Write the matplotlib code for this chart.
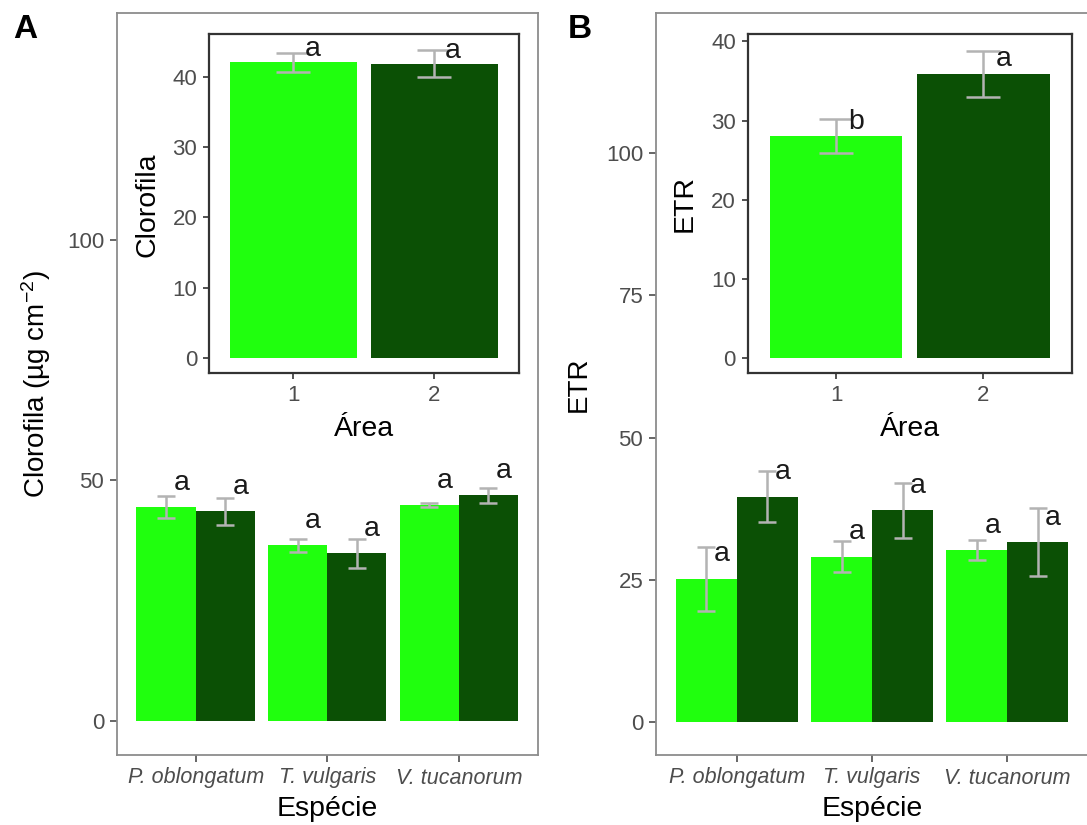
import matplotlib
matplotlib.use("Agg")
import matplotlib.pyplot as plt
import numpy as np

plt.rcParams['font.family'] = ['Liberation Sans', 'DejaVu Sans']
plt.rcParams['mathtext.fontset'] = 'custom'
plt.rcParams['mathtext.rm'] = 'Liberation Sans'
plt.rcParams['mathtext.it'] = 'Liberation Sans:italic'

# ---------------- data ----------------
species = ["P. oblongatum", "T. vulgaris", "V. tucanorum"]
areas = ["1", "2"]

chl_area1 = [44.5, 36.5, 44.9]
chl_area1_sd = [2.2, 1.45, 0.4]
chl_area2 = [43.6, 34.9, 46.9]
chl_area2_sd = [2.8, 3.0, 1.5]
chl_letters1 = ["a", "a", "a"]
chl_letters2 = ["a", "a", "a"]

chl_overall = [42.0, 41.8]
chl_overall_sd = [1.3, 1.9]
chl_overall_letters = ["a", "a"]

etr_area1 = [25.2, 29.1, 30.2]
etr_area1_sd = [5.6, 2.8, 1.75]
etr_area2 = [39.6, 37.2, 31.6]
etr_area2_sd = [4.45, 4.9, 6.0]
etr_letters1 = ["a", "a", "a"]
etr_letters2 = ["a", "a", "a"]

etr_overall = [28.0, 35.9]
etr_overall_sd = [2.15, 2.95]
etr_overall_letters = ["b", "a"]

# ---------------- style ----------------
C1 = '#20FF0E'
C2 = '#0B5005'
ERR = '#b3b3b3'
TICKC = '#4d4d4d'
W, H = 1087, 825

fig = plt.figure(figsize=(W / 100, H / 100), dpi=100)


def box(l, t, r, b):
    return [l / W, 1 - b / H, (r - l) / W, (b - t) / H]


def style_main(ax):
    for s in ax.spines.values():
        s.set_color('#8c8c8c')
        s.set_linewidth(1.3)
    ax.tick_params(axis='both', direction='out', length=5, width=1.2,
                   color='#4d4d4d', labelcolor=TICKC, labelsize=16, pad=4)
    ax.tick_params(axis='x', labelsize=15.5)


def style_inset(ax):
    for s in ax.spines.values():
        s.set_color('#333333')
        s.set_linewidth(1.6)
    ax.tick_params(axis='both', direction='out', length=4.5, width=1.2,
                   color='#333333', labelcolor=TICKC, labelsize=16, pad=4)


def main_panel(rect, m1, s1, m2, s2, l1, l2, ylim, yticks, yoff_pts):
    ax = fig.add_axes(rect)
    x = np.arange(1, len(species) + 1)
    bw = 0.45
    ax.bar(x - bw / 2, m1, width=bw, color=C1, zorder=2)
    ax.bar(x + bw / 2, m2, width=bw, color=C2, zorder=2)
    ax.errorbar(x - bw / 2, m1, yerr=s1, fmt='none', ecolor=ERR,
                elinewidth=1.8, capsize=6.5, capthick=1.8, zorder=3)
    ax.errorbar(x + bw / 2, m2, yerr=s2, fmt='none', ecolor=ERR,
                elinewidth=1.8, capsize=6.5, capthick=1.8, zorder=3)
    for xi, m, lab in list(zip(x - bw / 2, m1, l1)) + list(zip(x + bw / 2, m2, l2)):
        ax.annotate(lab, (xi, m), xytext=(11, yoff_pts), textcoords='offset points',
                    ha='center', va='center', fontsize=20.5, color='#1a1a1a', zorder=4)
    ax.set_xlim(0.4, 3.6)
    ax.set_ylim(*ylim)
    ax.set_yticks(yticks)
    ax.set_xticks(x)
    ax.set_xticklabels(species, fontstyle='italic')
    style_main(ax)
    return ax


def inset_panel(rect, m, s, labs, ylim, yoff_pts, xoff_pts):
    ax = fig.add_axes(rect)
    x = np.arange(1, len(areas) + 1)
    ax.bar(x, m, width=0.9, color=[C1, C2], zorder=2)
    ax.errorbar(x, m, yerr=s, fmt='none', ecolor=ERR, elinewidth=1.8,
                capsize=12, capthick=1.8, zorder=3)
    for xi, mi, lab in zip(x, m, labs):
        ax.annotate(lab, (xi, mi), xytext=(xoff_pts, yoff_pts), textcoords='offset points',
                    ha='center', va='center', fontsize=20.5, color='#1a1a1a', zorder=4)
    ax.set_xlim(0.4, 2.6)
    ax.set_ylim(*ylim)
    ax.set_yticks([0, 10, 20, 30, 40])
    ax.set_xticks(x)
    ax.set_xticklabels(areas)
    ax.set_facecolor('white')
    style_inset(ax)
    return ax


# Panel A
axA = main_panel(box(116.7, 13.3, 537.7, 755), chl_area1, chl_area1_sd, chl_area2, chl_area2_sd,
                 chl_letters1, chl_letters2, (-7, 147), [0, 50, 100], 17.5)
axAi = inset_panel(box(209, 34.3, 518.7, 372.7), chl_overall, chl_overall_sd,
                   chl_overall_letters, (-2.1, 46.0), 9.5, 13.5)

# Panel B
axB = main_panel(box(655.7, 13.3, 1088.5, 755), etr_area1, etr_area1_sd, etr_area2, etr_area2_sd,
                 etr_letters1, etr_letters2, (-5.75, 124.5), [0, 25, 50, 75, 100], 17.5)
axBi = inset_panel(box(747.7, 34.3, 1071.7, 373.3), etr_overall, etr_overall_sd,
                   etr_overall_letters, (-1.95, 40.9), 10.5, 14.5)


def ft(x, y, s, **kw):
    fig.text(x / W, 1 - y / H, s, **kw)


# axis titles
ft(36, 384, "Clorofila (µg cm$^{-2}$)", rotation=90, ha='center', va='center', fontsize=20, color='black')
ft(579, 384, "ETR", rotation=90, ha='center', va='center', fontsize=20, color='black')
ft(147, 205, "Clorofila", rotation=90, ha='center', va='center', fontsize=20.5, color='black')
ft(685, 204, "ETR", rotation=90, ha='center', va='center', fontsize=20.5, color='black')
ft(364, 429, "Área", ha='center', va='center', fontsize=20.5, color='black')
ft(910, 429, "Área", ha='center', va='center', fontsize=20.5, color='black')
ft(327, 809, "Espécie", ha='center', va='center', fontsize=20.5, color='black')
ft(872, 809, "Espécie", ha='center', va='center', fontsize=20.5, color='black')

# panel tags
ft(25, 29, "A", ha='center', va='center', fontsize=24, fontweight='bold', color='black')
ft(580, 29, "B", ha='center', va='center', fontsize=24, fontweight='bold', color='black')

fig.savefig("out.png", dpi=100)
